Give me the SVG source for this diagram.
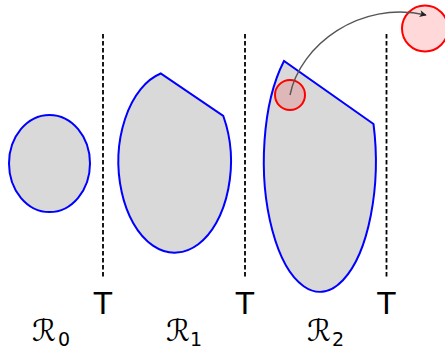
<svg xmlns="http://www.w3.org/2000/svg" width="445" height="349" viewBox="0 0 445 349">
<style>
.region{fill:#d9d9d9;stroke:#0000ff;stroke-width:2}
.cut{stroke:#000;stroke-width:1.8;stroke-dasharray:4.5,2.5;fill:none}
.t{font-family:"DejaVu Sans",sans-serif;font-size:30px;fill:#000;text-anchor:middle}
.r{font-family:"DejaVu Sans","DejaVu Serif",serif;font-size:30px;fill:#000}
.sub{font-family:"DejaVu Sans",sans-serif;font-size:19px;fill:#000}
.ball{stroke:#ff0000;stroke-width:2;fill:#ff0000;fill-opacity:0.15}
</style>
<defs>
<marker id="ah" viewBox="0 0 10 10" refX="9" refY="5" markerWidth="9" markerHeight="7" markerUnits="userSpaceOnUse" orient="auto">
<path d="M0,0 L10,5 L0,10 L2.5,5 Z" fill="#222"/>
</marker>
</defs>
<g id="cuts">
<line class="cut" x1="103" y1="34" x2="103" y2="279"/>
<line class="cut" x1="245" y1="34" x2="245" y2="279"/>
<line class="cut" x1="386.5" y1="34" x2="386.5" y2="279"/>
</g>
<g id="R0">
<ellipse class="region" cx="49.5" cy="163.5" rx="40.5" ry="48.5"/>
<text class="r" x="32" y="341">ℛ</text><text class="sub" x="58" y="346">0</text>
</g>
<g id="R1">
<path class="region" d="M160.7,73.5 A56.2,91 0 1 0 223.3,116 Z"/>
<text class="r" x="166" y="341">ℛ</text><text class="sub" x="190" y="346">1</text>
</g>
<g id="R2">
<path class="region" d="M284,61 A56,130.5 0 1 0 373.5,124 Z"/>
<text class="r" x="307" y="341">ℛ</text><text class="sub" x="332" y="346">2</text>
</g>
<g id="T-labels">
<text class="t" x="103" y="314">T</text>
<text class="t" x="245" y="314">T</text>
<text class="t" x="386.5" y="314">T</text>
</g>
<g id="ball-small"><circle class="ball" cx="290" cy="95" r="15"/></g>
<g id="ball-big"><circle class="ball" cx="425" cy="28.5" r="23"/></g>
<g id="connectors">
<path d="M290,95 C300,45 360,0 426,15" fill="none" stroke="#555" stroke-width="1.4" marker-end="url(#ah)"/>
</g>
</svg>
